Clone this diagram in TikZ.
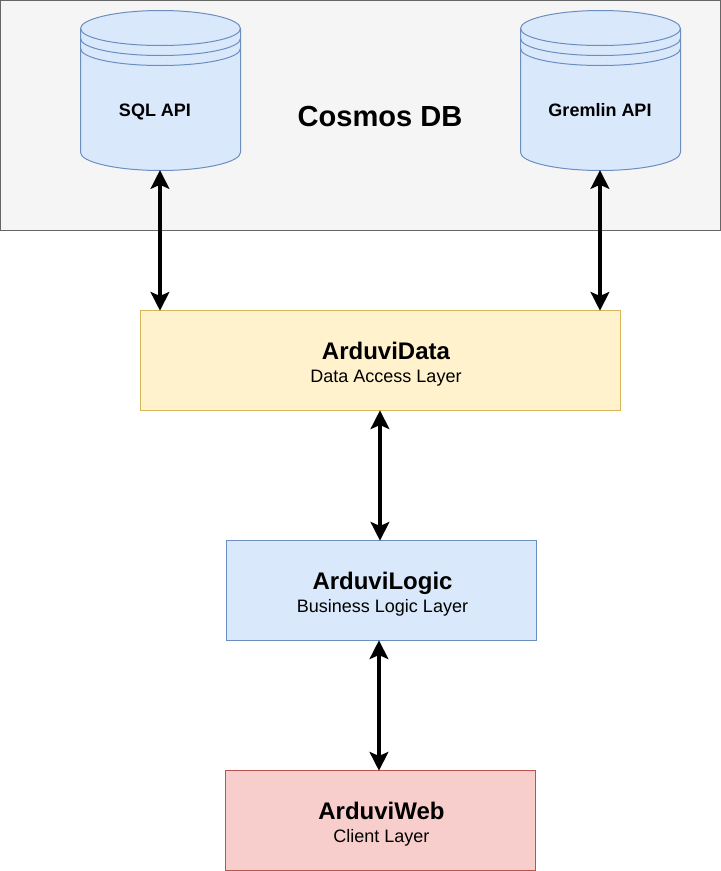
\documentclass[tikz,border=0pt]{standalone}
\usepackage{fontspec}
\setmainfont{Liberation Sans}
\usetikzlibrary{arrows.meta}
\definecolor{blueFill}{HTML}{DAE8FC}
\definecolor{blueLine}{HTML}{6C8EBF}
\definecolor{yellowFill}{HTML}{FFF2CC}
\definecolor{yellowLine}{HTML}{D6B656}
\definecolor{redFill}{HTML}{F8CECC}
\definecolor{redLine}{HTML}{B85450}
\definecolor{greyFill}{HTML}{F5F5F5}
\definecolor{greyLine}{HTML}{666666}
\tikzset{
  layerbox/.style={draw, line width=0.75pt, minimum height=75pt, inner sep=0pt},
  layertext/.style={align=center, font=\fontsize{13.5}{17.25}\selectfont, inner sep=0pt},
  apitext/.style={font=\fontsize{13.5}{14}\selectfont\bfseries, inner sep=0pt},
  dbspot/.style={minimum size=120pt, inner sep=0pt},
  both/.style={{Stealth[length=14pt,width=14pt,inset=3pt]}-{Stealth[length=14pt,width=14pt,inset=3pt]}, line width=3pt, shorten <=-0.5pt, shorten >=-0.5pt},
  dbdrum/.pic={
    \path[fill=blueFill] (-80,-62) .. controls (-80,-71.6) and (-44,-80) .. (0,-80)
      .. controls (44,-80) and (80,-71.6) .. (80,-62) -- (80,62)
      .. controls (80,71.6) and (44,80) .. (0,80)
      .. controls (-44,80) and (-80,71.6) .. (-80,62) -- cycle;
    \draw[blueLine, line width=0.75pt] (-80,-62) .. controls (-80,-71.6) and (-44,-80) .. (0,-80)
      .. controls (44,-80) and (80,-71.6) .. (80,-62) -- (80,62)
      .. controls (80,71.6) and (44,80) .. (0,80)
      .. controls (-44,80) and (-80,71.6) .. (-80,62) -- cycle;
    \foreach \dy in {0,10,20}
      \draw[blueLine, line width=0.75pt] (-80,-62+\dy) .. controls (-80,-52.4+\dy) and (-44,-45+\dy) .. (0,-45+\dy)
        .. controls (44,-45+\dy) and (80,-52.4+\dy) .. (80,-62+\dy);
  }
}
\begin{document}
\begin{tikzpicture}[x=0.75pt, y=-0.75pt]
    \useasboundingbox (0,0) rectangle (721,871);

    % Cosmos DB panel
    \node[layerbox, fill=greyFill, draw=greyLine, minimum width=540pt, minimum height=172.5pt] (cosmos) at (360.5,115.5) {};
    \node[font=\fontsize{21.8}{25}\selectfont\bfseries, inner sep=0pt] (cosmostext) at (380,116) {Cosmos DB};

    % Databases
    \pic at (160.5,90.5) {dbdrum};
    \node[dbspot] (sql) at (160.5,90.5) {};
    \node[apitext] (sqltext) at (155,111.5) {SQL API};
    \pic at (600.5,90.5) {dbdrum};
    \node[dbspot] (gremlin) at (600.5,90.5) {};
    \node[apitext] (gremlintext) at (600,110.5) {Gremlin API};

    % Layers
    \node[layerbox, fill=yellowFill, draw=yellowLine, minimum width=360pt] (data) at (380.5,360.5) {};
    \node[layertext] (datatext) at (386,364) {{\fontsize{18}{17.25}\selectfont\bfseries ArduviData}\\Data Access Layer};
    \node[layerbox, fill=blueFill, draw=blueLine, minimum width=232.5pt] (logic) at (381.5,590.5) {};
    \node[layertext] (logictext) at (382.5,594) {{\fontsize{18}{17.25}\selectfont\bfseries ArduviLogic}\\Business Logic Layer};
    \node[layerbox, fill=redFill, draw=redLine, minimum width=232.5pt] (web) at (380.5,820.5) {};
    \node[layertext] (webtext) at (381.5,824) {{\fontsize{18}{17.25}\selectfont\bfseries ArduviWeb}\\Client Layer};

    % Connectors
    \draw[both] ([xshift=-0.4pt]sql.south) -- ([xshift=-0.4pt]sql.south |- data.north);
    \draw[both] ([xshift=-0.4pt]gremlin.south) -- ([xshift=-0.4pt]gremlin.south |- data.north);
    \draw[both] ([xshift=-0.4pt]data.south) -- ([xshift=-0.4pt]logic.north -| data.south);
    \draw[both] ([xshift=-1.9pt]logic.south) -- ([xshift=-1.15pt]web.north);
\end{tikzpicture}
\end{document}
